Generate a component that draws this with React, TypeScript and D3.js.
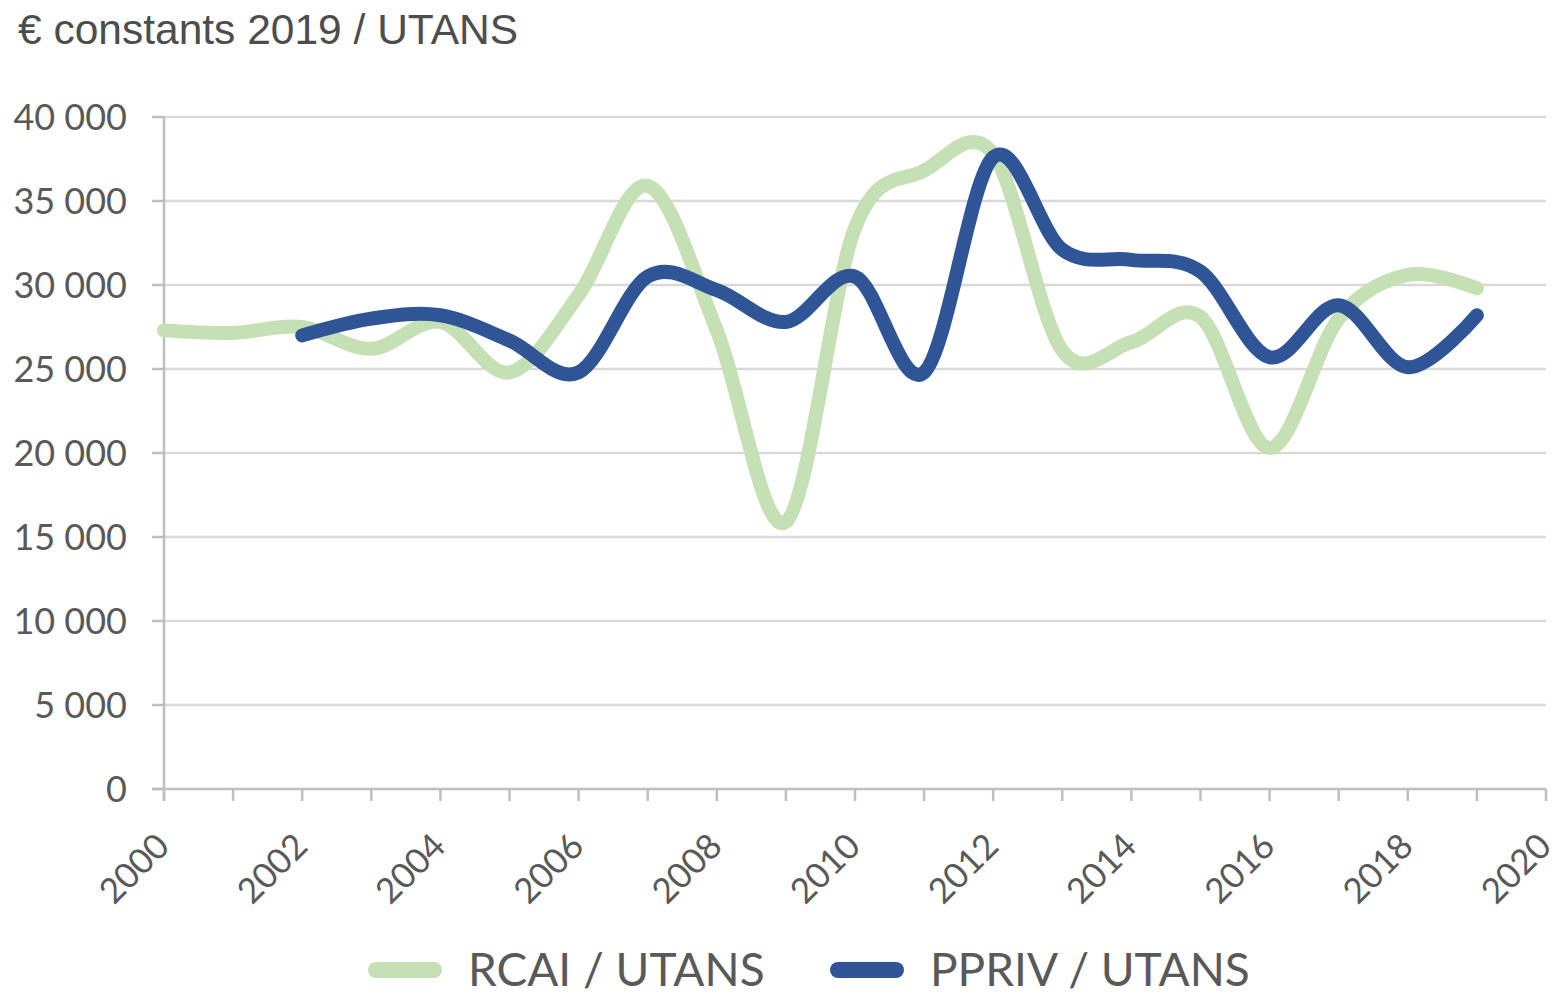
import React from "react";
import * as d3 from "d3";

const years = [2000, 2001, 2002, 2003, 2004, 2005, 2006, 2007, 2008, 2009, 2010, 2011, 2012, 2013, 2014, 2015, 2016, 2017, 2018, 2019];
const rcai = [27300, 27150, 27500, 26200, 27800, 24800, 29400, 35900, 27300, 15900, 33400, 36800, 37800, 26100, 26600, 28100, 20300, 28000, 30600, 29800];
const ppriv = [null, null, 27000, 28000, 28200, 26700, 24800, 30500, 29700, 27800, 30500, 24800, 37600, 32100, 31500, 30800, 25700, 28800, 25100, 28200];
const yTicks = [0, 5000, 10000, 15000, 20000, 25000, 30000, 35000, 40000];
const xLabelYears = [2000, 2002, 2004, 2006, 2008, 2010, 2012, 2014, 2016, 2018, 2020];
const xTickYears = d3.range(2000, 2021);
const seriesNames = ["RCAI / UTANS", "PPRIV / UTANS"];
const colors = ["#c5e0b4", "#2f5597"];

const W = 1558, H = 996;
const left = 164, right = 1546, top = 117, bottom = 789;

export default function App() {
  const x = d3.scaleLinear().domain([2000, 2020]).range([left, right]);
  const y = d3.scaleLinear().domain([0, 40000]).range([bottom, top]);
  const fmt = (v: number) => (v === 0 ? "0" : d3.format(",")(v).replace(",", " "));
  const line = d3
    .line<[number, number]>()
    .x((d) => x(d[0]))
    .y((d) => y(d[1]))
    .curve(d3.curveCardinal.tension(0));
  const s1 = years.map((yr, i) => [yr, rcai[i]] as [number, number]);
  const s2 = years
    .map((yr, i) => [yr, ppriv[i]] as [number, number | null])
    .filter((d) => d[1] !== null) as [number, number][];
  const font = "Lato, 'Open Sans', sans-serif";
  return (
    <svg width={W} height={H} style={{ position: "absolute", left: 0, top: 0, background: "#fff" }}>
      <text x={18} y={44} fontFamily="'Liberation Sans', Arial, sans-serif" fontSize={42.5} fill="#4d4d4d">
        € constants 2019 / UTANS
      </text>
      {yTicks.map((t) => (
        <g key={t}>
          {t > 0 && <line x1={left} x2={right} y1={y(t)} y2={y(t)} stroke="#d9d9d9" strokeWidth={2.5} />}
          <line x1={left - 12} x2={left} y1={y(t)} y2={y(t)} stroke="#bfbfbf" strokeWidth={2.5} />
          <text x={127} y={y(t)} dy="0.35em" textAnchor="end" fontFamily={font} fontSize={36} fill="#595959">
            {fmt(t)}
          </text>
        </g>
      ))}
      <line x1={left} x2={left} y1={top} y2={bottom + 12} stroke="#bfbfbf" strokeWidth={2.5} />
      <line x1={left - 12} x2={right} y1={bottom} y2={bottom} stroke="#bfbfbf" strokeWidth={2.5} />
      {xTickYears.map((yr) => (
        <line key={yr} x1={x(yr)} x2={x(yr)} y1={bottom} y2={bottom + 12} stroke="#bfbfbf" strokeWidth={2.5} />
      ))}
      {xLabelYears.map((yr) => (
        <text
          key={yr}
          transform={`translate(${x(yr) - 10},${bottom + 42}) rotate(-45)`}
          textAnchor="end"
          dy="0.7em"
          fontFamily={font}
          fontSize={35}
          fill="#595959"
        >
          {yr}
        </text>
      ))}
      <path d={line(s1) || ""} fill="none" stroke={colors[0]} strokeWidth={14} strokeLinecap="round" strokeLinejoin="round" />
      <path d={line(s2) || ""} fill="none" stroke={colors[1]} strokeWidth={14} strokeLinecap="round" strokeLinejoin="round" />
      {seriesNames.map((name, i) => {
        const lx = i === 0 ? 368 : 830;
        return (
          <g key={name}>
            <line x1={lx + 8} x2={lx + 66} y1={970} y2={970} stroke={colors[i]} strokeWidth={16} strokeLinecap="round" />
            <text x={lx + 100} y={970} dy="0.35em" fontFamily={font} fontSize={46} fill="#595959">
              {name}
            </text>
          </g>
        );
      })}
    </svg>
  );
}
